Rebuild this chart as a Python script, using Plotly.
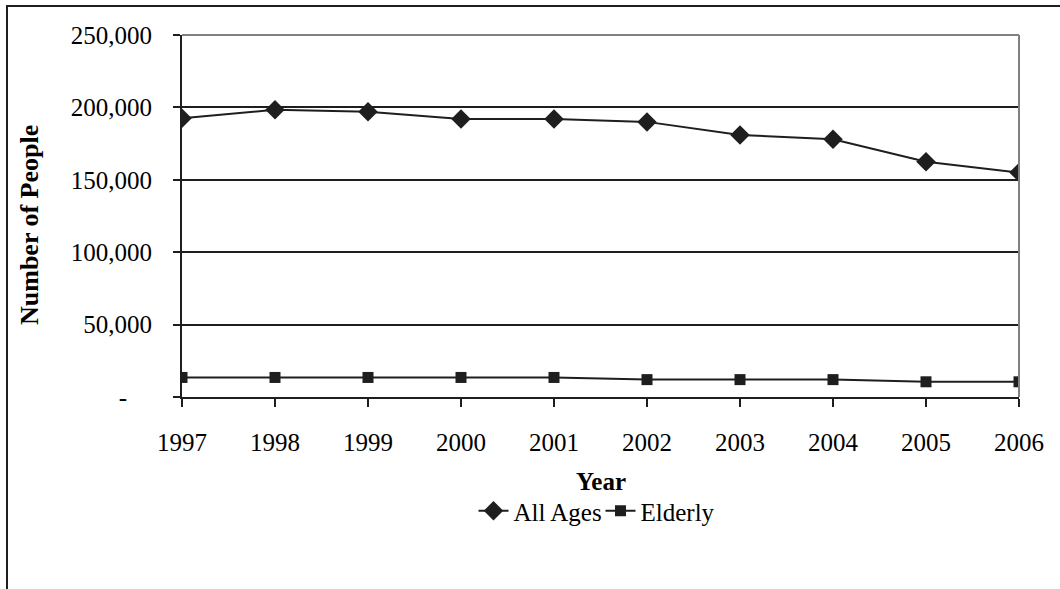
import plotly.graph_objects as go

years = [1997, 1998, 1999, 2000, 2001, 2002, 2003, 2004, 2005, 2006]
all_ages = [192500, 198300, 197000, 192000, 192000, 190000, 181000, 178000, 162500, 155000]
elderly = [13500, 13500, 13500, 13500, 13500, 12000, 12000, 12000, 10500, 10500]
y_ticks = [0, 50000, 100000, 150000, 200000, 250000]
y_tick_labels = ["-\u2007\u2007", "50,000", "100,000", "150,000", "200,000", "250,000"]
x_title = "Year"
y_title = "Number of People"

INK = "#1e1e1e"
FONT = "Liberation Serif, Times New Roman, serif"

fig = go.Figure()
fig.add_trace(go.Scatter(
    x=years, y=all_ages, name="All Ages", mode="lines+markers",
    line=dict(color=INK, width=2),
    marker=dict(symbol="diamond", size=15, color=INK),
))
fig.add_trace(go.Scatter(
    x=years, y=elderly, name="Elderly", mode="lines+markers",
    line=dict(color=INK, width=2),
    marker=dict(symbol="square", size=11, color=INK),
))

L, R, T, B = 182, 1019, 35, 397
W, H = 1060, 589
pw, ph = R - L, B - T

def px(x):
    return (x - L) / pw

def py(y):
    return (B - y) / ph

fig.update_layout(
    width=W, height=H,
    margin=dict(l=L, r=W - R, t=T, b=H - B),
    paper_bgcolor="white", plot_bgcolor="white",
    font=dict(family=FONT, size=25, color="black"),
    showlegend=True,
    legend=dict(orientation="h", x=0.5, xanchor="center", y=py(511), yanchor="middle",
                font=dict(size=25), itemwidth=30, entrywidth=82, tracegroupgap=0),
    xaxis=dict(
        range=[1997, 2006], tickvals=years, ticktext=[str(y) for y in years],
        showgrid=False, zeroline=False,
        showline=True, linecolor=INK, linewidth=2,
        ticks="outside", ticklen=8, tickwidth=2, tickcolor=INK,
        tickfont=dict(size=25), ticklabelstandoff=14,
    ),
    yaxis=dict(
        range=[0, 250000], tickvals=y_ticks, ticktext=y_tick_labels,
        showgrid=True, gridcolor=INK, gridwidth=2, zeroline=False,
        showline=True, linecolor=INK, linewidth=2,
        ticks="outside", ticklen=7, tickwidth=2, tickcolor=INK,
        tickfont=dict(size=25), ticklabelstandoff=16,
    ),
    annotations=[
        dict(text="<b>" + x_title + "</b>", xref="paper", yref="paper",
             x=0.5, y=py(481), xanchor="center", yanchor="middle",
             showarrow=False, font=dict(size=25)),
        dict(text="<b>" + y_title + "</b>", xref="paper", yref="paper",
             x=px(29), y=py(225), xanchor="center", yanchor="middle", textangle=-90,
             showarrow=False, font=dict(size=26)),
    ],
    shapes=[
        dict(type="line", xref="paper", yref="paper", x0=0, x1=1, y0=1, y1=1,
             line=dict(color="#808080", width=2), layer="above"),
        dict(type="line", xref="paper", yref="paper", x0=1, x1=1, y0=0, y1=1,
             line=dict(color="#808080", width=2), layer="above"),
        dict(type="rect", xref="paper", yref="paper",
             x0=px(7), x1=px(1070), y0=py(600), y1=py(6),
             line=dict(color=INK, width=2), fillcolor="rgba(0,0,0,0)", layer="above"),
    ],
)

fig.write_html(
    "out.html",
    config={"displayModeBar": False},
    post_script="document.body.style.margin='0';document.body.style.overflow='hidden';",
)
